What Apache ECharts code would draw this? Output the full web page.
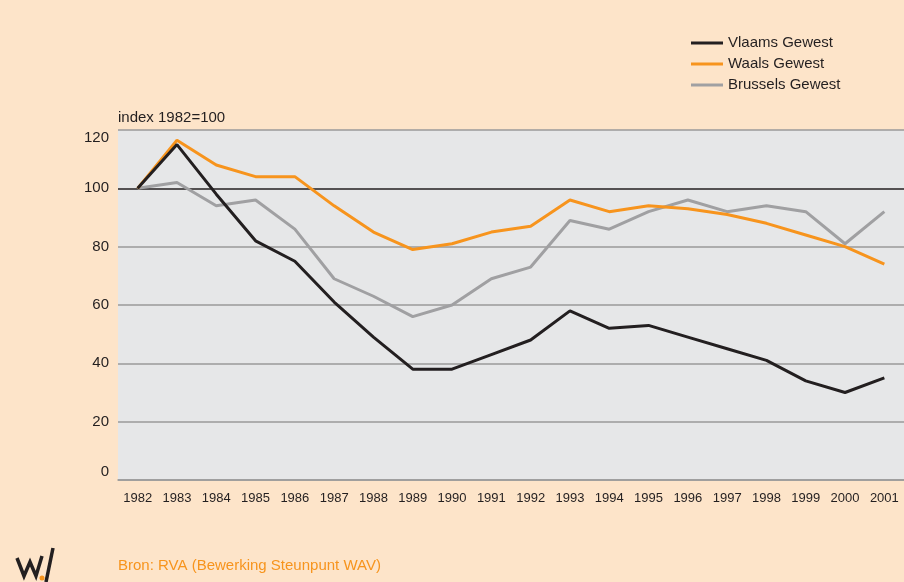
<!DOCTYPE html>
<html>
<head>
<meta charset="utf-8">
<script src="https://cdn.jsdelivr.net/npm/echarts@6/dist/echarts.min.js"></script>
<style>
html,body{margin:0;padding:0;background:#fde4c9;}
#c{width:904px;height:582px;}
</style>
</head>
<body>
<div id="c"></div>
<script>
var years = ['1982','1983','1984','1985','1986','1987','1988','1989','1990','1991','1992','1993','1994','1995','1996','1997','1998','1999','2000','2001'];
var vlaams = [100,115,98,82,75,61,49,38,38,43,48,58,52,53,49,45,41,34,30,35];
var waals = [100,116.5,108,104,104,94,85,79,81,85,87,96,92,94,93,91,88,84,80,74];
var brussels = [100,102,94,96,86,69,63,56,60,69,73,89,86,92,96,92,94,92,81,92];
var seriesNames = ['Vlaams Gewest','Waals Gewest','Brussels Gewest'];
var yTicks = [0,20,40,60,80,100,120];

var FONT = "'Liberation Sans',Arial,sans-serif";
var chart = echarts.init(document.getElementById('c'));
chart.setOption({
  backgroundColor: '#fde4c9',
  animation: false,
  grid: {left:118, top:130, width:792, bottom:102, show:true, backgroundColor:'#e6e7e8', borderWidth:0},
  legend: {
    orient:'vertical', left:686, top:30, itemWidth:32, itemHeight:3, itemGap:5, icon:'rect',
    textStyle:{fontFamily:FONT, fontSize:15, color:'#231f20', lineHeight:16},
    data: seriesNames
  },
  xAxis: {
    type:'category', data:years, boundaryGap:true,
    axisLine:{lineStyle:{color:'#9a9a9a', width:1.5}},
    axisTick:{show:false},
    axisLabel:{fontFamily:FONT, fontSize:13, color:'#231f20', margin:12, interval:0}
  },
  yAxis: {
    type:'value', min:yTicks[0], max:yTicks[yTicks.length-1], interval:20,
    name:'index 1982=100', nameLocation:'end', nameGap:5,
    nameTextStyle:{fontFamily:FONT, fontSize:15, color:'#231f20', align:'left'},
    axisLine:{show:false}, axisTick:{show:false},
    axisLabel:{fontFamily:FONT, fontSize:15, color:'#231f20', margin:9,
      formatter:function(v){
        if (v === yTicks[yTicks.length-1]) return '{dn|' + v + '}';
        if (v === yTicks[0]) return '{up|' + v + '}';
        return String(v);
      },
      rich:{
        dn:{fontFamily:FONT, fontSize:15, color:'#231f20', padding:[16,0,0,0]},
        up:{fontFamily:FONT, fontSize:15, color:'#231f20', padding:[0,0,16,0]}
      }
    },
    splitLine:{show:true, lineStyle:{color:['#9a9a9a','#9a9a9a','#9a9a9a','#9a9a9a','#9a9a9a','#231f20','#9a9a9a'], width:1.5}}
  },
  series: [
    {name:seriesNames[0], type:'line', data:vlaams, symbol:'none', z:4, lineStyle:{color:'#231f20', width:3}, itemStyle:{color:'#231f20'}},
    {name:seriesNames[1], type:'line', data:waals, symbol:'none', z:3, lineStyle:{color:'#f7941d', width:3}, itemStyle:{color:'#f7941d'}},
    {name:seriesNames[2], type:'line', data:brussels, symbol:'none', z:2, lineStyle:{color:'#a0a0a2', width:3}, itemStyle:{color:'#a0a0a2'}}
  ],
  graphic: [
    {type:'text', left:118, top:558, style:{text:'Bron: RVA (Bewerking Steunpunt WAV)', fontFamily:FONT, fontSize:15, fill:'#f7941d'}},
    {type:'polyline', shape:{points:[[17,558],[24,576],[30,562],[36,576],[42,556]]}, style:{stroke:'#231f20', lineWidth:3.5, fill:null, lineJoin:'miter'}},
    {type:'line', shape:{x1:53, y1:548, x2:46, y2:582}, style:{stroke:'#231f20', lineWidth:3.5}},
    {type:'circle', shape:{cx:42, cy:578, r:2.5}, style:{fill:'#f7941d'}}
  ]
});
</script>
</body>
</html>
